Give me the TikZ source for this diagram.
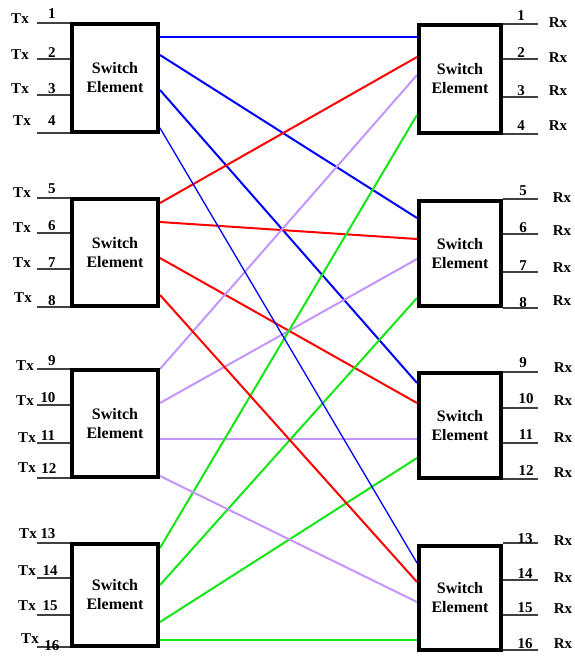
\documentclass[tikz,border=0pt]{standalone}
\usepackage{fontspec}
\setmainfont{Liberation Serif}
\definecolor{cblue}{RGB}{0,0,255}
\definecolor{cred}{RGB}{255,0,0}
\definecolor{cpurp}{RGB}{195,150,255}
\definecolor{cgreen}{RGB}{20,230,20}
\newcommand\sebfont{\bfseries\fontsize{16}{19}\selectfont}
\newcommand\lblfont{\bfseries\fontsize{15}{16}\selectfont}
\tikzset{
  sebox/.style={draw=black, line width=3.5pt, fill=white, inner sep=0pt, align=center, font=\sebfont},
  lbox/.style={sebox, minimum width=86pt},
  rbox/.style={sebox, minimum width=82pt},
  port/.style={draw=black!75, line width=1.6pt},
  lbl/.style={inner sep=0pt, anchor=base, font=\lblfont},
  wire/.style={line width=2pt}
}
\begin{document}
\begin{tikzpicture}[x=1pt,y=-1pt]
\fill[white] (0,0) rectangle (575,657);
\useasboundingbox (0,0) rectangle (575,657);
% connector end points
\foreach \k/\ya/\yb/\yc/\yd in {1/37/55/90/128, 2/203/222/258/295, 3/369/403/439/476, 4/548/585/622/640}{
  \coordinate (s\k-1) at (160,\ya);
  \coordinate (s\k-2) at (160,\yb);
  \coordinate (s\k-3) at (160,\yc);
  \coordinate (s\k-4) at (160,\yd);
}
\foreach \i/\ya/\yb/\yc/\yd in {1/37/57/75/115, 2/218/239/259/298, 3/383/403/439/458, 4/563/582/602/640}{
  \coordinate (t\i-1) at (417,\ya);
  \coordinate (t\i-2) at (417,\yb);
  \coordinate (t\i-3) at (417,\yc);
  \coordinate (t\i-4) at (417,\yd);
}
% connectors
\foreach \k/\c in {1/cblue, 2/cred, 3/cpurp, 4/cgreen}{
  \foreach \i in {1,2,3}{
    \draw[wire, draw=\c] (s\k-\i) -- (t\i-\k);
  }
}
\draw[line width=1.3pt, draw=cblue] (s1-4) -- (t4-1);
\draw[wire, draw=cred] (s2-4) -- (t4-2);
\draw[wire, draw=cpurp] (s3-4) -- (t4-3);
\draw[wire, draw=cgreen] (s4-4) -- (t4-4);
% switch elements
\node[lbox, minimum height=108pt] (L1) at (115,78) {Switch\\Element};
\node[lbox, minimum height=107pt] (L2) at (115,252.5) {Switch\\Element};
\node[lbox, minimum height=107pt] (L3) at (115,423.5) {Switch\\Element};
\node[lbox, minimum height=102pt] (L4) at (115,595) {Switch\\Element};
\node[rbox, minimum height=108pt] (R1) at (460,79) {Switch\\Element};
\node[rbox, minimum height=105pt] (R2) at (460,253.5) {Switch\\Element};
\node[rbox, minimum height=105pt] (R3) at (460,425.5) {Switch\\Element};
\node[rbox, minimum height=104pt] (R4) at (460,598) {Switch\\Element};
% transmit ports
\foreach \n/\y/\tx/\ty/\nx/\ny/\b in {
  1/23/20/23/52/18/L1, 2/59/20/59/52/57/L1, 3/95/20/93/52/93/L1, 4/133/22/125/52/125/L1,
  5/198/22/197/52/193/L2, 6/233/22/232/52/230/L2, 7/269/22/267/52/267/L2, 8/307/23/302/52/305/L2,
  9/369/25/370/52/365/L3, 10/405/25/405/48/402/L3, 11/443/27/442/48/440/L3, 12/478/27/472/49/473/L3,
  13/543/28/538/48/538/L4, 14/578/27/575/50/575/L4, 15/615/27/610/50/610/L4, 16/647/30/643/52/650/L4}{
  \coordinate (in\n) at (37,\y);
  \draw[port] (in\n) -- (in\n -| \b.west);
  \node[lbl] (tx\n) at (\tx,\ty) {Tx};
  \node[lbl] (ni\n) at (\nx,\ny) {\n};
}
% receive ports
\foreach \n/\y/\nx/\ny/\rx/\ry/\b in {
  1/24/521/20/558/27/R1, 2/59/521/57/558/62/R1, 3/97/521/95/558/95/R1, 4/134/521/130/558/130/R1,
  5/199/523/195/562/202/R2, 6/234/523/232/562/235/R2, 7/272/523/270/562/272/R2, 8/308/523/307/562/305/R2,
  9/372/523/367/563/372/R3, 10/408/526/403/563/405/R3, 11/443/526/439/563/442/R3, 12/479/526/475/563/477/R3,
  13/543/525/543/563/545/R4, 14/580/525/578/563/582/R4, 15/615/525/612/563/613/R4, 16/650/525/648/563/648/R4}{
  \coordinate (out\n) at (538,\y);
  \draw[port] (\b.east |- out\n) -- (out\n);
  \node[lbl] (no\n) at (\nx,\ny) {\n};
  \node[lbl] (rx\n) at (\rx,\ry) {Rx};
}
\end{tikzpicture}
\end{document}
